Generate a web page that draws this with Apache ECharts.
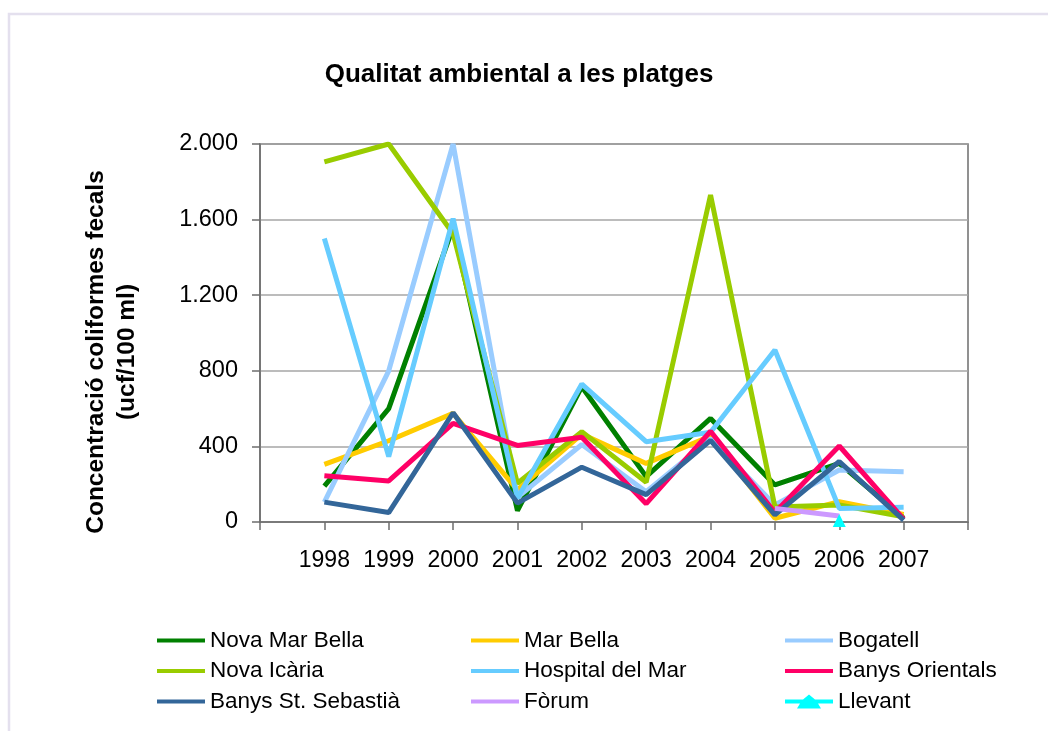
<!DOCTYPE html>
<html>
<head>
<meta charset="utf-8">
<script src="https://cdn.jsdelivr.net/npm/echarts@6/dist/echarts.min.js"></script>
<style>
html,body{margin:0;padding:0;background:#fff;}
#chart{width:1048px;height:731px;}
</style>
</head>
<body>
<div id="chart"></div>
<script>
var years = ['1998','1999','2000','2001','2002','2003','2004','2005','2006','2007'];
var yTicks = [0, 400, 800, 1200, 1600, 2000];

var novaMarBella     = [190, 600, 1560, 60, 716, 240, 548, 196, 310, 20];
var marBella         = [305, 430, 575, 170, 465, 310, 455, 20, 108, 40];
var bogatell         = [105, 800, 2000, 130, 410, 160, 440, 90, 275, 266];
var novaIcaria       = [1905, 2000, 1525, 205, 478, 210, 1730, 80, 90, 28];
var hospitalDelMar   = [1500, 346, 1605, 125, 730, 425, 475, 910, 72, 78];
var banysOrientals   = [245, 217, 522, 405, 448, 97, 480, 50, 402, 15];
var banysStSebastia  = [105, 50, 578, 100, 290, 145, 432, 38, 320, 10];
var forum            = [null, null, null, null, null, null, null, 72, 32, null];
var llevant          = [null, null, null, null, null, null, null, null, 8, null];

var seriesDefs = [
  {name:'Nova Mar Bella', data:novaMarBella, color:'#008000'},
  {name:'Mar Bella', data:marBella, color:'#FFCC00'},
  {name:'Bogatell', data:bogatell, color:'#99CCFF'},
  {name:'Nova Icària', data:novaIcaria, color:'#99CC00'},
  {name:'Hospital del Mar', data:hospitalDelMar, color:'#66CCFF'},
  {name:'Banys Orientals', data:banysOrientals, color:'#FF0066'},
  {name:'Banys St. Sebastià', data:banysStSebastia, color:'#336699'},
  {name:'Fòrum', data:forum, color:'#CC99FF'},
  {name:'Llevant', data:llevant, color:'#00FFFF', marker:true}
];

var FONT = "'Liberation Sans', Arial, sans-serif";
var cats = [''].concat(years).concat(['']);
function pad(a){ return [null].concat(a).concat([null]); }
function fmt(v){ return String(v).replace(/\B(?=(\d{3})+(?!\d))/g, '.'); }

var ICON_LINE = 'path://M0,0 M48,14 M0,5 L48,5 L48,9 L0,9 Z';
var ICON_TRI  = 'path://M0,0 M48,14 M0,5 L18,5 L24,0 L30,5 L48,5 L48,9 L33,9 L36,14 L12,14 L15,9 L0,9 Z';

var series = seriesDefs.map(function(s){
  return {
    name: s.name,
    type: 'line',
    data: pad(s.data),
    symbol: s.marker ? 'triangle' : 'none',
    symbolSize: s.marker ? 13 : 0,
    showSymbol: !!s.marker,
    connectNulls: false,
    itemStyle: {color: s.color},
    lineStyle: {color: s.color, width: 5},
    emphasis: {disabled: true},
    animation: false
  };
});

function legendCol(names, left){
  return {
    show: true,
    orient: 'vertical',
    left: left,
    top: 629,
    padding: 0,
    itemWidth: 48,
    itemHeight: 14,
    itemGap: 7.5,
    data: names.map(function(n){ return {name: n, icon: n === 'Llevant' ? ICON_TRI : ICON_LINE}; }),
    textStyle: {fontFamily: FONT, fontSize: 22.5, color: '#000', lineHeight: 22},
    selectedMode: false
  };
}

var chart = echarts.init(document.getElementById('chart'), null, {renderer: 'canvas'});
chart.setOption({
  backgroundColor: '#ffffff',
  animation: false,
  graphic: [
    {type:'rect', shape:{x:9, y:14, width:1200, height:900}, style:{fill:'none', stroke:'#e4e0ee', lineWidth:2.5}, silent:true},
    {type:'text', x:519, y:75, style:{text:'Qualitat ambiental a les platges', font:'bold 26px ' + FONT, fill:'#000', textAlign:'center', textVerticalAlign:'middle'}},
    {type:'text', x:112, y:352, rotation: Math.PI/2, style:{text:'Concentració coliformes fecals\n(ucf/100 ml)', font:'bold 24.5px ' + FONT, fill:'#000', textAlign:'center', textVerticalAlign:'middle', lineHeight:31}}
  ],
  legend: [
    legendCol(['Nova Mar Bella','Nova Icària','Banys St. Sebastià'], 157),
    legendCol(['Mar Bella','Hospital del Mar','Fòrum'], 471),
    legendCol(['Bogatell','Banys Orientals','Llevant'], 785)
  ],
  grid: {left: 260, right: 80, top: 144, bottom: 209, show: true, borderColor: '#6e6e6e', borderWidth: 1.5},
  xAxis: {
    type: 'category',
    data: cats,
    boundaryGap: false,
    axisLine: {lineStyle: {color: '#6e6e6e', width: 1.5}},
    axisTick: {show: true, interval: 0, length: 8, lineStyle: {color: '#6e6e6e', width: 1.5}},
    axisLabel: {interval: 0, fontFamily: FONT, fontSize: 23, color: '#000', margin: 27},
    splitLine: {show: false}
  },
  yAxis: {
    type: 'value',
    min: yTicks[0],
    max: yTicks[yTicks.length-1],
    interval: yTicks[1] - yTicks[0],
    axisLine: {show: true, lineStyle: {color: '#6e6e6e', width: 1.5}},
    axisTick: {show: true, length: 8, lineStyle: {color: '#6e6e6e', width: 1.5}},
    axisLabel: {fontFamily: FONT, fontSize: 23.5, color: '#000', margin: 22, formatter: function(v){ return fmt(v); }},
    splitLine: {show: true, lineStyle: {color: '#a6a6a6', width: 1.5}}
  },
  series: series
});
</script>
</body>
</html>
